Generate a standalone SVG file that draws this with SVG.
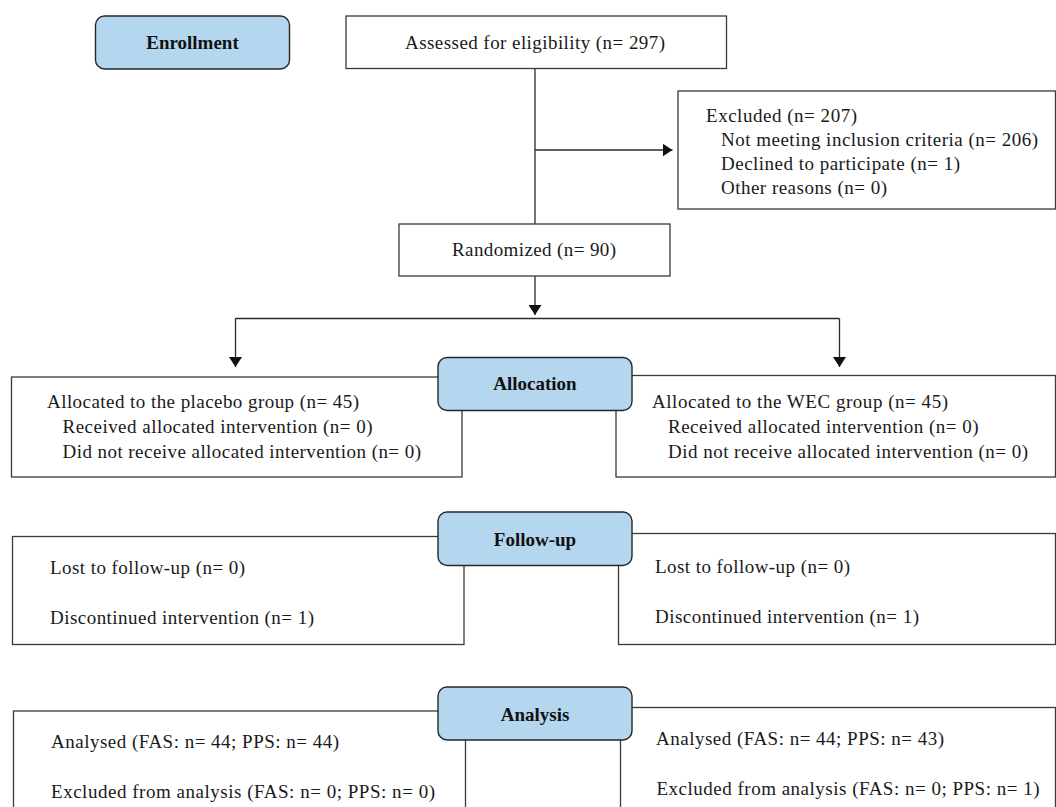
<svg xmlns="http://www.w3.org/2000/svg" width="1056" height="807" viewBox="0 0 1056 807">
<defs>
<style>
.box{fill:#ffffff;stroke:#3a3a3a;stroke-width:1.3}
.phase{fill:#b4d6ee;stroke:#262626;stroke-width:1.4}
.t{font-family:"Liberation Serif","Times New Roman",serif;font-size:19px;fill:#1a1a1a}
.b{font-family:"Liberation Serif","Times New Roman",serif;font-size:19px;font-weight:bold;fill:#111111;text-anchor:middle}
.c{fill:none;stroke:#2a2a2a;stroke-width:1.3}
</style>
<marker id="ah" markerUnits="userSpaceOnUse" markerWidth="10" markerHeight="13" refX="10" refY="6.5" orient="auto">
<path d="M0,0 L10,6.5 L0,13 Z" fill="#111111"/>
</marker>
</defs>
<rect width="1056" height="807" fill="#ffffff"/>

<g id="connectors">
<path class="c" d="M535,68.5 V224"/>
<path class="c" d="M535,150 H672.5" marker-end="url(#ah)"/>
<path class="c" d="M535,276 V315" marker-end="url(#ah)"/>
<path class="c" d="M235.5,318.5 H839.5"/>
<path class="c" d="M235.5,318.5 V367" marker-end="url(#ah)"/>
<path class="c" d="M839.5,318.5 V367" marker-end="url(#ah)"/>
</g>

<g id="enrollment">
<rect class="phase" x="95.5" y="16" width="194" height="53" rx="9"/>
<text class="b" x="192.5" y="49">Enrollment</text>
</g>

<g id="assessed">
<rect class="box" x="346" y="16" width="380.5" height="52.5"/>
<text class="t" x="405" y="49" textLength="260" lengthAdjust="spacing">Assessed for eligibility (n= 297)</text>
</g>

<g id="excluded">
<rect class="box" x="678" y="91" width="377.5" height="118"/>
<text class="t" x="706" y="122" textLength="151" lengthAdjust="spacing">Excluded (n= 207)</text>
<text class="t" x="721" y="146" textLength="317" lengthAdjust="spacing">Not meeting inclusion criteria (n= 206)</text>
<text class="t" x="721" y="170" textLength="239" lengthAdjust="spacing">Declined to participate (n= 1)</text>
<text class="t" x="721" y="194" textLength="166" lengthAdjust="spacing">Other reasons (n= 0)</text>
</g>

<g id="randomized">
<rect class="box" x="399" y="224" width="271" height="52"/>
<text class="t" x="452" y="256" textLength="164" lengthAdjust="spacing">Randomized (n= 90)</text>
</g>

<g id="alloc-placebo">
<rect class="box" x="11.5" y="377" width="450.5" height="100"/>
<text class="t" x="47" y="408" textLength="312" lengthAdjust="spacing">Allocated to the placebo group (n= 45)</text>
<text class="t" x="62.5" y="433" textLength="310" lengthAdjust="spacing">Received allocated intervention (n= 0)</text>
<text class="t" x="62.5" y="458" textLength="358.5" lengthAdjust="spacing">Did not receive allocated intervention (n= 0)</text>
</g>

<g id="alloc-wec">
<rect class="box" x="616" y="375.5" width="439.5" height="101.5"/>
<text class="t" x="652" y="408" textLength="296" lengthAdjust="spacing">Allocated to the WEC group (n= 45)</text>
<text class="t" x="668" y="433" textLength="310.5" lengthAdjust="spacing">Received allocated intervention (n= 0)</text>
<text class="t" x="668" y="458" textLength="360" lengthAdjust="spacing">Did not receive allocated intervention (n= 0)</text>
</g>

<g id="allocation">
<rect class="phase" x="438" y="357.5" width="194" height="53" rx="9"/>
<text class="b" x="535" y="390">Allocation</text>
</g>

<g id="follow-placebo">
<rect class="box" x="12.5" y="536.5" width="451.5" height="108"/>
<text class="t" x="50" y="574" textLength="195" lengthAdjust="spacing">Lost to follow-up (n= 0)</text>
<text class="t" x="50" y="624" textLength="264" lengthAdjust="spacing">Discontinued intervention (n= 1)</text>
</g>

<g id="follow-wec">
<rect class="box" x="618.5" y="533.5" width="437" height="111"/>
<text class="t" x="655" y="573" textLength="195" lengthAdjust="spacing">Lost to follow-up (n= 0)</text>
<text class="t" x="655" y="623" textLength="264" lengthAdjust="spacing">Discontinued intervention (n= 1)</text>
</g>

<g id="follow-up">
<rect class="phase" x="438" y="512" width="194" height="53.5" rx="9"/>
<text class="b" x="535" y="546">Follow-up</text>
</g>

<g id="analysis-placebo">
<rect class="box" x="13.5" y="711" width="452" height="110"/>
<text class="t" x="51" y="748" textLength="288" lengthAdjust="spacing">Analysed (FAS: n= 44; PPS: n= 44)</text>
<text class="t" x="51" y="798" textLength="384" lengthAdjust="spacing">Excluded from analysis (FAS: n= 0; PPS: n= 0)</text>
</g>

<g id="analysis-wec">
<rect class="box" x="620.5" y="707.5" width="435" height="113"/>
<text class="t" x="656" y="745" textLength="288" lengthAdjust="spacing">Analysed (FAS: n= 44; PPS: n= 43)</text>
<text class="t" x="656.5" y="795" textLength="383" lengthAdjust="spacing">Excluded from analysis (FAS: n= 0; PPS: n= 1)</text>
</g>

<g id="analysis">
<rect class="phase" x="438" y="687" width="194" height="53" rx="9"/>
<text class="b" x="535" y="721">Analysis</text>
</g>
</svg>
